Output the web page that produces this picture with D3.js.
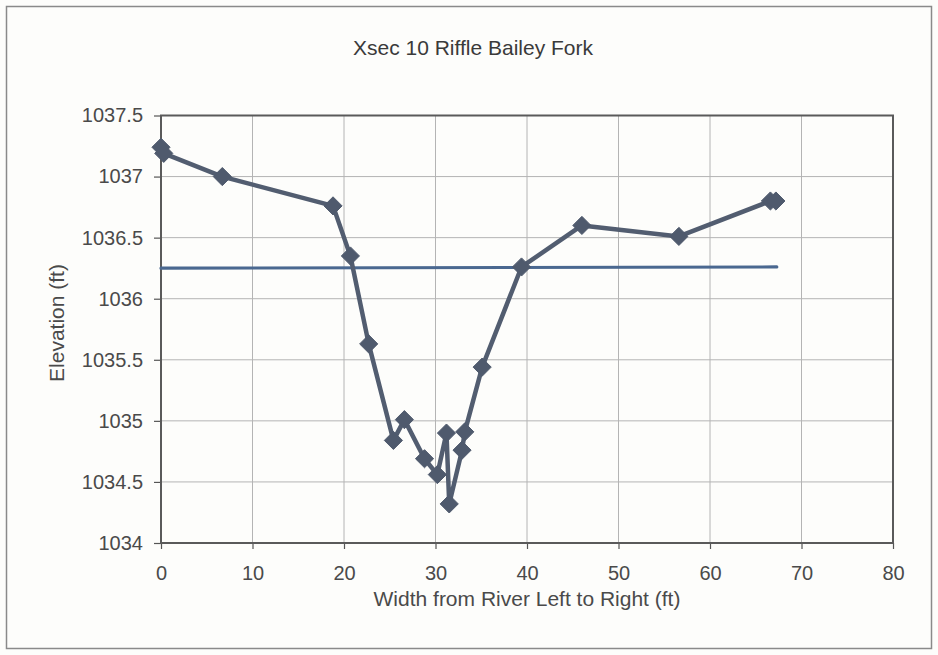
<!DOCTYPE html>
<html>
<head>
<meta charset="utf-8">
<script src="https://cdn.jsdelivr.net/npm/d3@7"></script>
<style>
  html, body { margin: 0; padding: 0; background: #fdfdfb; }
  svg { display: block; font-family: "Liberation Sans", Arial, sans-serif; }
</style>
</head>
<body>
<svg id="chart" width="938" height="655"></svg>
<script>
// Survey stations across the channel (ft from left bank) and bed elevation (ft)
const station = [0, 0.3, 6.7, 18.8, 20.7, 22.7, 25.4, 26.6, 28.8, 30.2, 31.2, 31.5, 32.9, 33.2, 35.1, 39.4, 46.0, 56.6, 66.6, 67.2];
const elevation = [1037.24, 1037.19, 1037.0, 1036.76, 1036.35, 1035.63, 1034.84, 1035.01, 1034.69, 1034.56, 1034.9, 1034.32, 1034.76, 1034.91, 1035.44, 1036.26, 1036.6, 1036.51, 1036.8, 1036.8];

// Water surface line
const wsStation = [0, 67.3];
const wsElevation = [1036.25, 1036.26];

const xTicks = [0, 10, 20, 30, 40, 50, 60, 70, 80];
const yTicks = [1034, 1034.5, 1035, 1035.5, 1036, 1036.5, 1037, 1037.5];

const svg = d3.select("#chart");
const plot = { left: 161, right: 893, top: 115.5, bottom: 543 };
const textColor = "#4a4a4a";

// Outer frame
svg.append("rect")
  .attr("x", 6.5).attr("y", 6.5)
  .attr("width", 925).attr("height", 642)
  .attr("fill", "#fdfdfb").attr("stroke", "#8a8a8a").attr("stroke-width", 1.5);

const x = d3.scaleLinear().domain([0, 80]).range([plot.left, plot.right]);
const y = d3.scaleLinear().domain([1034, 1037.5]).range([plot.bottom, plot.top]);

// Grid
const grid = svg.append("g");
grid.selectAll("line.v").data(xTicks.slice(1, -1)).join("line")
  .attr("x1", d => x(d)).attr("x2", d => x(d))
  .attr("y1", plot.top).attr("y2", plot.bottom)
  .attr("stroke", "#b4b4b4").attr("stroke-width", 1);
grid.selectAll("line.h").data(yTicks.slice(1, -1)).join("line")
  .attr("x1", plot.left).attr("x2", plot.right)
  .attr("y1", d => y(d)).attr("y2", d => y(d))
  .attr("stroke", "#b4b4b4").attr("stroke-width", 1);

// Axes
const xAxis = svg.append("g")
  .attr("transform", `translate(0,${plot.bottom})`)
  .call(d3.axisBottom(x).tickValues(xTicks).tickSize(6).tickPadding(17).tickFormat(d3.format("d")));
const yAxis = svg.append("g")
  .attr("transform", `translate(${plot.left},0)`)
  .call(d3.axisLeft(y).tickValues(yTicks).tickSize(7).tickPadding(11).tickFormat(d => String(d)));
[xAxis, yAxis].forEach(a => {
  a.select(".domain").remove();
  a.selectAll(".tick line").attr("stroke", "#555").attr("stroke-width", 1.2);
  a.selectAll(".tick text").attr("fill", textColor).style("font-size", "20px")
    .style("font-family", "'Liberation Sans', Arial, sans-serif");
});

// Plot frame
svg.append("rect")
  .attr("x", plot.left).attr("y", plot.top)
  .attr("width", plot.right - plot.left).attr("height", plot.bottom - plot.top)
  .attr("fill", "none").attr("stroke", "#5a5a5a").attr("stroke-width", 2);

// Water surface
const ws = wsStation.map((s, i) => [s, wsElevation[i]]);
svg.append("path")
  .datum(ws)
  .attr("d", d3.line().x(d => x(d[0])).y(d => y(d[1])))
  .attr("fill", "none").attr("stroke", "#4a6890").attr("stroke-width", 3.2)
  .attr("stroke-linecap", "round");

// Bed profile
const pts = station.map((s, i) => [s, elevation[i]]);
svg.append("path")
  .datum(pts)
  .attr("d", d3.line().x(d => x(d[0])).y(d => y(d[1])))
  .attr("fill", "none").attr("stroke", "#525d70").attr("stroke-width", 4.5)
  .attr("stroke-linejoin", "round");

svg.append("g").selectAll("path").data(pts).join("path")
  .attr("d", d3.symbol().type(d3.symbolDiamond2).size(210))
  .attr("transform", d => `translate(${x(d[0])},${y(d[1])})`)
  .attr("fill", "#4f5a6d").attr("stroke", "#4f5a6d").attr("stroke-width", 1);

// Titles
svg.append("text")
  .attr("x", 473).attr("y", 55).attr("text-anchor", "middle")
  .attr("fill", "#3a3a3a").style("font-size", "21px")
  .text("Xsec 10 Riffle Bailey Fork");

svg.append("text")
  .attr("x", 527).attr("y", 606).attr("text-anchor", "middle")
  .attr("fill", textColor).style("font-size", "21px")
  .text("Width from River Left to Right (ft)");

svg.append("text")
  .attr("transform", `translate(64,323) rotate(-90)`)
  .attr("text-anchor", "middle")
  .attr("fill", textColor).style("font-size", "21px")
  .text("Elevation (ft)");
</script>
</body>
</html>
